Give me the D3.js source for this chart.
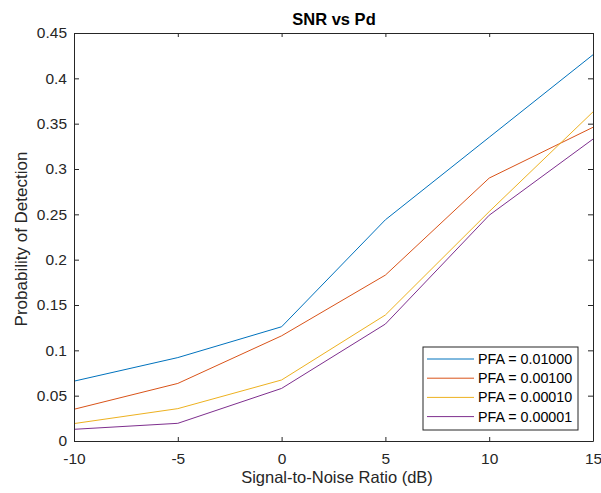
<!DOCTYPE html>
<html>
<head>
<meta charset="utf-8">
<script src="https://cdn.jsdelivr.net/npm/d3@7"></script>
<style>
  html, body { margin: 0; padding: 0; background: #fff; }
  svg { display: block; font-family: "Liberation Sans", Arial, sans-serif; }
</style>
</head>
<body>
<svg id="chart" width="601" height="493"></svg>
<script>
// SNR sweep (dB) and detection probability for each false-alarm rate
const snr = [-10, -5, 0, 5, 10, 15];
const pd_pfa_01000 = [0.066, 0.092, 0.126, 0.244, 0.335, 0.426];
const pd_pfa_00100 = [0.035, 0.0635, 0.116, 0.183, 0.290, 0.346];
const pd_pfa_00010 = [0.0192, 0.0357, 0.0673, 0.139, 0.253, 0.363];
const pd_pfa_00001 = [0.0129, 0.0195, 0.058, 0.129, 0.249, 0.333];
const seriesNames = ["PFA = 0.01000", "PFA = 0.00100", "PFA = 0.00010", "PFA = 0.00001"];
const seriesColors = ["#0072BD", "#D95319", "#EDB120", "#7E2F8E"];
const xTicks = [-10, -5, 0, 5, 10, 15];
const yTicks = [0, 0.05, 0.1, 0.15, 0.2, 0.25, 0.3, 0.35, 0.4, 0.45];

const series = [pd_pfa_01000, pd_pfa_00100, pd_pfa_00010, pd_pfa_00001];

const svg = d3.select("#chart");
const W = 601, H = 493;
const margin = { left: 74, top: 33, right: W - 593, bottom: H - 441 };
const x = d3.scaleLinear().domain([-10, 15]).range([margin.left, W - margin.right]);
const y = d3.scaleLinear().domain([0, 0.45]).range([H - margin.bottom, margin.top]);
const axisColor = "#262626";
const font = "'Liberation Sans', Arial, sans-serif";

// Data lines
const line = d3.line().x((d, i) => x(snr[i])).y(d => y(d));
svg.append("g").selectAll("path").data(series).join("path")
  .attr("d", d => line(d))
  .attr("fill", "none")
  .attr("stroke", (d, i) => seriesColors[i])
  .attr("stroke-width", 1);

// Axes with inward ticks, boxed on all four sides
const fmtX = d => String(d);
const fmtY = d => String(+d.toFixed(2));
const xAxisB = d3.axisBottom(x).tickValues(xTicks).tickSizeInner(-4).tickSizeOuter(0).tickPadding(11.5).tickFormat(fmtX);
const xAxisT = d3.axisTop(x).tickValues(xTicks).tickSizeInner(-4).tickSizeOuter(0).tickFormat("");
const yAxisL = d3.axisLeft(y).tickValues(yTicks).tickSizeInner(-5).tickSizeOuter(0).tickPadding(7).tickFormat(fmtY);
const yAxisR = d3.axisRight(y).tickValues(yTicks).tickSizeInner(-5).tickSizeOuter(0).tickFormat("");

function style(g) {
  g.select(".domain").attr("stroke", axisColor).attr("stroke-width", 1);
  g.selectAll(".tick line").attr("stroke", axisColor).attr("stroke-width", 1);
  g.selectAll(".tick text").attr("fill", axisColor).style("font-size", "15.5px").style("font-family", font);
}
svg.append("g").attr("transform", `translate(0,${H - margin.bottom})`).call(xAxisB).call(style);
svg.append("g").attr("transform", `translate(0,${margin.top})`).call(xAxisT).call(style);
svg.append("g").attr("transform", `translate(${margin.left},0)`).call(yAxisL).call(style);
svg.append("g").attr("transform", `translate(${W - margin.right},0)`).call(yAxisR).call(style);

// Title and axis labels
svg.append("text").attr("x", 334).attr("y", 25)
  .attr("text-anchor", "middle").attr("font-weight", "bold").attr("font-size", 16.5)
  .attr("fill", "#000").text("SNR vs Pd");
svg.append("text").attr("x", 337).attr("y", 482.5)
  .attr("text-anchor", "middle").attr("font-size", 16.5).attr("fill", axisColor)
  .text("Signal-to-Noise Ratio (dB)");
svg.append("text").attr("transform", `translate(27,239) rotate(-90)`)
  .attr("text-anchor", "middle").attr("font-size", 17).attr("fill", axisColor)
  .text("Probability of Detection");

// Legend
const lg = svg.append("g").attr("transform", "translate(423,347)");
lg.append("rect").attr("width", 155).attr("height", 83)
  .attr("fill", "#fff").attr("stroke", axisColor).attr("stroke-width", 1);
const items = lg.selectAll("g.item").data(seriesNames).join("g")
  .attr("class", "item")
  .attr("transform", (d, i) => `translate(0,${12 + i * 19.2})`);
items.append("line").attr("x1", 4).attr("x2", 51).attr("y1", 0).attr("y2", 0)
  .attr("stroke", (d, i) => seriesColors[i]).attr("stroke-width", 1);
items.append("text").attr("x", 55).attr("y", 0).attr("dy", "0.35em")
  .attr("font-size", 14.3).attr("fill", "#000").text(d => d);
</script>
</body>
</html>
